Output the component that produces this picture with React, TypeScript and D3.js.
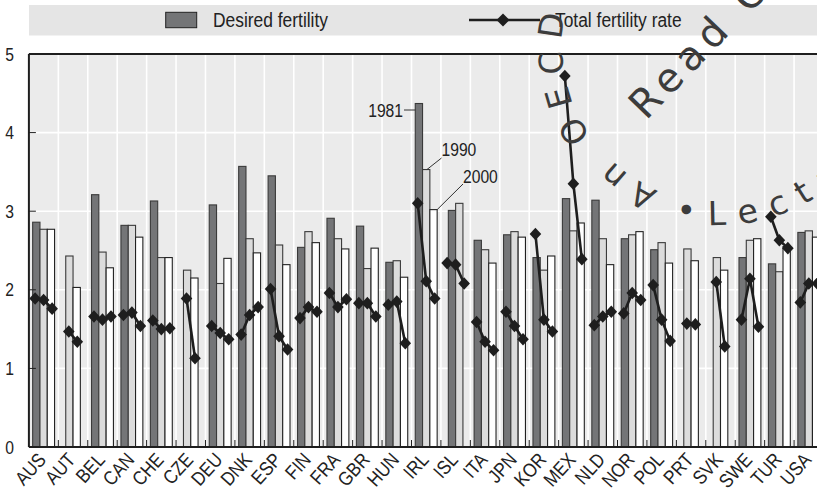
import React from "react";
import * as d3 from "d3";

const countries = ["AUS","AUT","BEL","CAN","CHE","CZE","DEU","DNK","ESP","FIN","FRA","GBR","HUN","IRL","ISL","ITA","JPN","KOR","MEX","NLD","NOR","POL","PRT","SVK","SWE","TUR","USA"];
const years = ["1981", "1990", "2000"];

const desired1981 = [2.86, null, 3.21, 2.82, 3.13, null, 3.08, 3.57, 3.45, 2.54, 2.91, 2.81, 2.35, 4.37, 3.01, 2.63, 2.70, 2.41, 3.16, 3.14, 2.65, 2.51, null, null, 2.41, 2.33, 2.73];
const desired1990 = [2.77, 2.43, 2.48, 2.82, 2.41, 2.25, 2.08, 2.65, 2.57, 2.74, 2.65, 2.27, 2.37, 3.53, 3.10, 2.51, 2.74, 2.25, 2.75, 2.65, 2.70, 2.60, 2.52, 2.41, 2.63, 2.23, 2.75];
const desired2000 = [2.77, 2.03, 2.28, 2.67, 2.41, 2.15, 2.40, 2.47, 2.32, 2.60, 2.52, 2.53, 2.16, 3.02, null, 2.34, 2.67, 2.43, 2.85, 2.32, 2.74, 2.34, 2.37, 2.25, 2.65, 2.55, 2.67];

const tfr1981 = [1.89, null, 1.66, 1.68, 1.61, null, 1.54, 1.43, 2.01, 1.64, 1.96, 1.83, 1.81, 3.10, 2.34, 1.59, 1.72, 2.71, 4.72, 1.55, 1.70, 2.06, null, null, 1.62, 2.93, 1.84];
const tfr1990 = [1.87, 1.47, 1.62, 1.71, 1.50, 1.89, 1.45, 1.68, 1.41, 1.78, 1.78, 1.83, 1.85, 2.11, 2.32, 1.34, 1.54, 1.62, 3.35, 1.66, 1.96, 1.62, 1.57, 2.10, 2.14, 2.63, 2.08];
const tfr2000 = [1.76, 1.34, 1.66, 1.54, 1.51, 1.13, 1.37, 1.78, 1.24, 1.72, 1.88, 1.66, 1.32, 1.89, 2.08, 1.23, 1.37, 1.47, 2.39, 1.72, 1.87, 1.35, 1.56, 1.28, 1.53, 2.53, 2.08];

const yTicks = [0, 1, 2, 3, 4, 5];
const legendLabels = ["Desired fertility", "Total fertility rate"];

const FONT = "'Liberation Sans', Arial, sans-serif";
const SX = 0.87;
const barFills = ["#747577", "#dcdcdc", "#ffffff"];

function CText(props: { x: number; y: number; rot?: number; anchor?: string; size: number; children: any }) {
  const { x, y, rot = 0, anchor = "start", size, children } = props;
  return (
    <text transform={`translate(${x},${y})${rot ? `rotate(${rot})` : ""}scale(${SX},1)`}
      textAnchor={anchor} fontSize={size} fill="#222" fontFamily={FONT}>{children}</text>
  );
}

export default function App() {
  const W = 817, H = 495;
  const X0 = 28.9, BAND = 29.43;
  const top = 54, bottom = 447;
  const right = X0 + BAND * countries.length;
  const x = d3.scaleBand().domain(countries).range([X0, right]).padding(0);
  const y = d3.scaleLinear().domain([0, 5]).range([bottom, top]);
  const barW = 7.3;
  const dStep = 8.5;
  const desired = [desired1981, desired1990, desired2000];
  const tfr = [tfr1981, tfr1990, tfr2000];
  const line = d3.line<[number, number]>().x(d => d[0]).y(d => d[1]);
  const diamond = "M0,-6.3L5.8,0L0,6.3L-5.8,0Z";

  const bars: any[] = [];
  const lines: any[] = [];
  const barPos: Record<string, any> = {};
  countries.forEach((c, i) => {
    const cx = (x(c) as number) + x.bandwidth() / 2;
    const present = [0, 1, 2].filter(k => desired[k][i] != null);
    const start = cx - (present.length * barW) / 2;
    present.forEach((k, j) => {
      const v = desired[k][i] as number;
      const bx = start + j * barW;
      barPos[c + years[k]] = { x: bx, y: y(v) };
      bars.push(
        <rect key={c + k} x={bx} y={y(v)} width={barW} height={y(0) - y(v)}
          fill={barFills[k]} stroke={k === 2 ? "#222" : "#3a3a3a"} strokeWidth={1.1} />
      );
    });
    const tp = [0, 1, 2].filter(k => tfr[k][i] != null);
    const ts = cx - ((tp.length - 1) * dStep) / 2;
    const pts: [number, number][] = tp.map((k, j) => [ts + j * dStep, y(tfr[k][i] as number)]);
    lines.push(
      <g key={"l" + c}>
        <path d={line(pts) || ""} fill="none" stroke="#1e1e1e" strokeWidth={2.6} />
        {pts.map((p, j) => (
          <path key={j} d={diamond} transform={`translate(${p[0]},${p[1]})`} fill="#1e1e1e" />
        ))}
      </g>
    );
  });

  const irl81 = barPos["IRL1981"], irl90 = barPos["IRL1990"], irl00 = barPos["IRL2000"];

  const wcx = 720, wcy = 45;
  const arc = (r: number, a0: number, a1: number, sweep: number) => {
    const p0 = [wcx + r * Math.cos(a0 * Math.PI / 180), wcy + r * Math.sin(a0 * Math.PI / 180)];
    const p1 = [wcx + r * Math.cos(a1 * Math.PI / 180), wcy + r * Math.sin(a1 * Math.PI / 180)];
    const large = Math.abs(a1 - a0) > 180 ? 1 : 0;
    return `M${p0[0]},${p0[1]}A${r},${r} 0 ${large} ${sweep} ${p1[0]},${p1[1]}`;
  };

  return (
    <svg width={W} height={H} style={{ position: "absolute", left: 0, top: 0, background: "#fff" }}
      fontFamily={FONT}>
      <defs>
        <path id="wmArc1" d={arc(158, 113, 280, 1)} />
        <path id="wmArc2" d={arc(180, 104.5, -60, 0)} />
      </defs>
      {/* legend */}
      <rect x={29} y={5} width={W - 29} height={30.5} fill="#e5e5e5" />
      <rect x={165.7} y={12.3} width={31} height={15.4} fill={barFills[0]} stroke="#222" strokeWidth={1} />
      <CText x={213} y={27} size={20}>{legendLabels[0]}</CText>
      <line x1={469} x2={540} y1={20} y2={20} stroke="#1e1e1e" strokeWidth={2.6} />
      <path d="M0,-6.5L6.5,0L0,6.5L-6.5,0Z" transform="translate(503,20)" fill="#1e1e1e" />
      <CText x={555} y={27} size={20}>{legendLabels[1]}</CText>

      {/* plot background */}
      <rect x={X0} y={top} width={right - X0} height={bottom - top} fill="#ebebeb" />
      {yTicks.filter(t => t > 0 && t < 5).map(t => (
        <line key={"h" + t} x1={X0} x2={right} y1={y(t)} y2={y(t)} stroke="#fff" strokeWidth={1.6} />
      ))}
      {countries.slice(1).map(c => (
        <line key={"v" + c} x1={x(c) as number} x2={x(c) as number} y1={top} y2={bottom} stroke="#fff" strokeWidth={1.6} />
      ))}

      {bars}
      {lines}

      {/* axes */}
      <line x1={X0} x2={right} y1={top} y2={top} stroke="#1e1e1e" strokeWidth={1.8} />
      <line x1={X0} x2={right} y1={bottom} y2={bottom} stroke="#1e1e1e" strokeWidth={2} />
      <line x1={X0} x2={X0} y1={top} y2={bottom} stroke="#1e1e1e" strokeWidth={2} />
      {yTicks.map(t => (
        <g key={"yt" + t}>
          <line x1={X0} x2={X0 + 7} y1={y(t)} y2={y(t)} stroke="#1e1e1e" strokeWidth={1} />
          <CText x={14} y={y(t) + 6.5} size={18} anchor="end">{t}</CText>
        </g>
      ))}
      {countries.slice(1).map(c => (
        <line key={"xt" + c} x1={x(c) as number} x2={x(c) as number} y1={bottom} y2={bottom - 7} stroke="#1e1e1e" strokeWidth={1} />
      ))}
      {countries.map(c => {
        const cx = (x(c) as number) + x.bandwidth() / 2;
        return (
          <CText key={"xl" + c} x={cx + 3.5} y={460.5} rot={-48} anchor="end" size={19.5}>{c}</CText>
        );
      })}

      {/* year annotations */}
      <line x1={404} x2={irl81.x} y1={110} y2={110} stroke="#333" strokeWidth={1} />
      <CText x={403} y={116.5} size={18} anchor="end">{years[0]}</CText>
      <line x1={441.5} y1={158} x2={irl90.x + barW * 0.6} y2={irl90.y} stroke="#333" strokeWidth={1} />
      <CText x={441.5} y={156} size={18}>{years[1]}</CText>
      <line x1={463} y1={184} x2={irl00.x + barW} y2={irl00.y} stroke="#333" strokeWidth={1} />
      <CText x={463} y={182.5} size={18}>{years[2]}</CText>

      {/* watermark */}
      <g fill="#3c3c3c" fontFamily="'DejaVu Sans', sans-serif">
        <text fontSize={33} letterSpacing={11}><textPath href="#wmArc1">An OECD</textPath></text>
        <text fontSize={33} letterSpacing={14}><textPath href="#wmArc2">•Lecture en ligne</textPath></text>
        <text transform="translate(646,121)rotate(-46)" fontSize={40} letterSpacing={7}>Read Online</text>
      </g>
    </svg>
  );
}
